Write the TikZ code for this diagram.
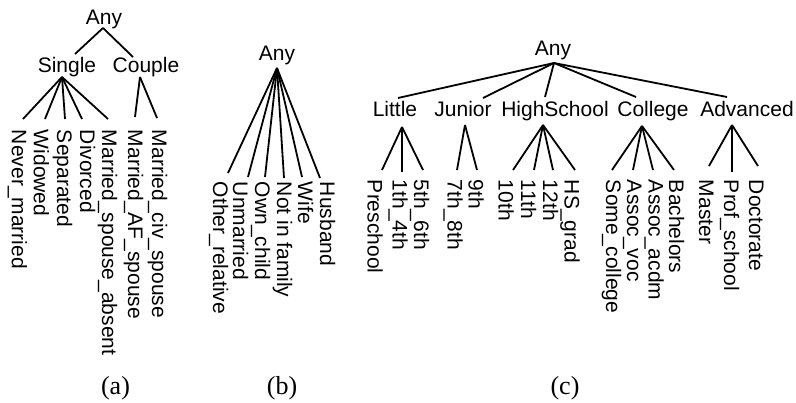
\documentclass[tikz,border=0pt]{standalone}
\usepackage{fontspec}
\setmainfont{Liberation Sans}
\newfontfamily\capfont{Liberation Serif}
\begin{document}
\begin{tikzpicture}[x=1pt,y=-1pt,
  hl/.style={font=\fontsize{21}{25}\selectfont, inner sep=0pt, outer sep=0pt, anchor=base, text height=15pt, text depth=0pt},
  vl/.style={font=\fontsize{21}{25}\selectfont, inner sep=0pt, outer sep=0pt, rotate=-90, anchor=west, text height=15pt, text depth=0pt},
  conn/.style={line width=1.8pt},
  sublabel/.style={font=\capfont\fontsize{26}{30}\selectfont, inner sep=0pt, anchor=base}]
\useasboundingbox (0,0) rectangle (796,403);

% ---------------- (a) ----------------
\node[hl] (anyA) at (104,25) {Any};
\node[hl] (single) at (67,73) {Single};
\node[hl] (couple) at (146,73) {Couple};
\coordinate (hA) at ([shift={(-1,3)}]anyA.base);
\coordinate (hS) at ([shift={(-5,4)}]single.base);
\coordinate (hC) at ([shift={(-6,4)}]couple.base);
\node[vl] (nm)  at (19.5,130) {Never\_married};
\node[vl] (wd)  at (41.5,130) {Widowed};
\node[vl] (sp)  at (64.5,130) {Separated};
\node[vl] (dv)  at (87.5,130) {Divorced};
\node[vl] (msa) at (109.5,130) {Married\_spouse\_absent};
\node[vl] (maf) at (135.5,130) {Married\_AF\_spouse};
\node[vl] (mcs) at (159.5,130) {Married\_civ\_spouse};
\draw[conn] (hA) -- ([shift={(8,-4)}]single.north);
\draw[conn] (hA) -- ([shift={(-13,-1)}]couple.north);
\draw[conn] (hS) -- ([shift={(3.5,-11)}]nm.west);
\draw[conn] (hS) -- ([shift={(3.5,-11)}]wd.west);
\draw[conn] (hS) -- ([shift={(0.5,-11)}]sp.west);
\draw[conn] (hS) -- ([shift={(-5.5,-11)}]dv.west);
\draw[conn] (hS) -- ([shift={(-1.5,-11)}]msa.west);
\draw[conn] (hC) -- ([shift={(-0.5,-13)}]maf.west);
\draw[conn] (hC) -- ([shift={(-2.5,-12)}]mcs.west);

% ---------------- (b) ----------------
\node[hl] (anyB) at (277,61) {Any};
\coordinate (hB) at ([shift={(0,7)}]anyB.base);
\node[vl] (oth) at (220.5,182) {Other\_relative};
\node[vl] (unm) at (240.5,182) {Unmarried};
\node[vl] (own) at (262.5,182) {Own\_child};
\node[vl] (nif) at (284.5,182) {Not in family};
\node[vl] (wif) at (305.5,182) {Wife};
\node[vl] (hus) at (327.5,182) {Husband};
\draw[conn] (hB) -- ([shift={(7.5,-9)}]oth.west);
\draw[conn] (hB) -- ([shift={(7.5,-5)}]unm.west);
\draw[conn] (hB) -- ([shift={(2.5,-5)}]own.west);
\draw[conn] (hB) -- ([shift={(-0.5,-4)}]nif.west);
\draw[conn] (hB) -- ([shift={(-3.5,-5)}]wif.west);
\draw[conn] (hB) -- ([shift={(-7.5,-4)}]hus.west);

% ---------------- (c) ----------------
\node[hl] (anyC) at (553,56) {Any};
\coordinate (hC0) at ([shift={(1,7)}]anyC.base);
\node[hl] (little) at (395,117) {Little};
\node[hl] (junior) at (463,117) {Junior};
\node[hl] (high)   at (555,117) {HighSchool};
\node[hl] (coll)   at (653,117) {College};
\node[hl] (adv)    at (747,117) {Advanced};
\draw[conn] (hC0) -- ([shift={(3,-4)}]little.north);
\draw[conn] (hC0) -- ([shift={(20,-4)}]junior.north);
\draw[conn] (hC0) -- ([shift={(-10,-5)}]high.north);
\draw[conn] (hC0) -- ([shift={(-17,-5)}]coll.north);
\draw[conn] (hC0) -- ([shift={(-20,-5)}]adv.north);
\coordinate (hL)  at ([shift={(7,10)}]little.base);
\coordinate (hJ)  at ([shift={(2,8)}]junior.base);
\coordinate (hH)  at ([shift={(-12,8)}]high.base);
\coordinate (hCo) at ([shift={(-11,9)}]coll.base);
\coordinate (hAd) at ([shift={(-15,8)}]adv.base);
\node[vl] (pre) at (375,180) {Preschool};
\node[vl] (g14) at (400,180) {1th\_4th};
\node[vl] (g56) at (421.5,180) {5th\_6th};
\node[vl] (g78) at (455,180) {7th\_8th};
\node[vl] (g9)  at (476,180) {9th};
\node[vl] (g10) at (506,180) {10th};
\node[vl] (g11) at (528.5,180) {11th};
\node[vl] (g12) at (550.5,180) {12th};
\node[vl] (hsg) at (572,180) {HS\_grad};
\node[vl] (scl) at (613.5,180) {Some\_college};
\node[vl] (avc) at (634.5,180) {Assoc\_voc};
\node[vl] (aac) at (656,180) {Assoc\_acdm};
\node[vl] (bac) at (676.5,180) {Bachelors};
\node[vl] (mas) at (706.5,180) {Master};
\node[vl] (prf) at (731.5,180) {Prof\_school};
\node[vl] (doc) at (756.5,180) {Doctorate};
\draw[conn] (hL) -- ([shift={(7,-10)}]pre.west);
\draw[conn] (hL) -- ([shift={(2,-8)}]g14.west);
\draw[conn] (hL) -- ([shift={(1.5,-10)}]g56.west);
\draw[conn] (hJ) -- ([shift={(2,-10)}]g78.west);
\draw[conn] (hJ) -- ([shift={(1,-10)}]g9.west);
\draw[conn] (hH) -- ([shift={(7,-10)}]g10.west);
\draw[conn] (hH) -- ([shift={(5.5,-10)}]g11.west);
\draw[conn] (hH) -- ([shift={(2.5,-10)}]g12.west);
\draw[conn] (hH) -- ([shift={(3,-10)}]hsg.west);
\draw[conn] (hCo) -- ([shift={(-1.5,-10)}]scl.west);
\draw[conn] (hCo) -- ([shift={(-1.5,-10)}]avc.west);
\draw[conn] (hCo) -- ([shift={(-3,-10)}]aac.west);
\draw[conn] (hCo) -- ([shift={(-2.5,-10)}]bac.west);
\draw[conn] (hAd) -- ([shift={(2.5,-14)}]mas.west);
\draw[conn] (hAd) -- ([shift={(0.5,-8)}]prf.west);
\draw[conn] (hAd) -- ([shift={(1.5,-14)}]doc.west);

% ---------------- captions ----------------
\node[sublabel] (capA) at (115.5,395) {(a)};
\node[sublabel] (capB) at (282,395) {(b)};
\node[sublabel] (capC) at (565,395) {(c)};
\end{tikzpicture}
\end{document}
